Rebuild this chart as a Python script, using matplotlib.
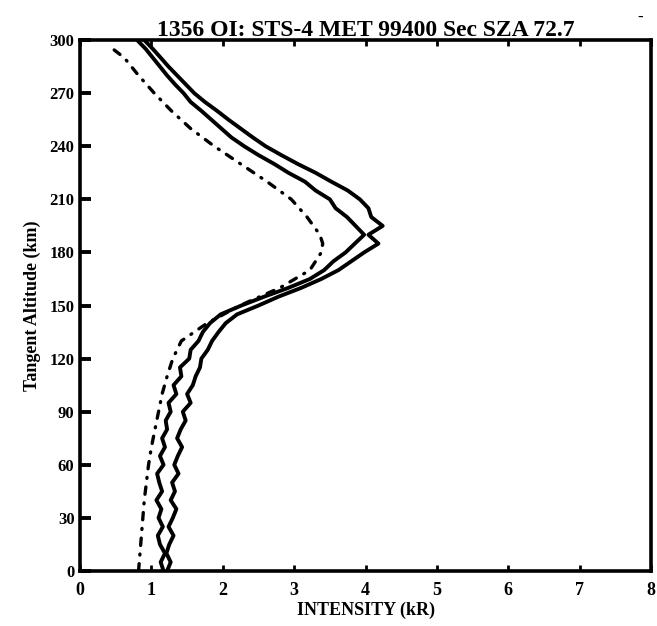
import matplotlib
matplotlib.use("Agg")
import matplotlib.pyplot as plt
import numpy as np

# altitude grid for the measured profiles (km)
alt_meas = list(range(0, 301, 5))

# left measured profile (kR)
meas_a = [1.17, 1.13, 1.19, 1.12, 1.09, 1.16, 1.10, 1.14, 1.07, 1.15,
          1.11, 1.08, 1.17, 1.12, 1.19, 1.15, 1.22, 1.20, 1.27, 1.24,
          1.35, 1.31, 1.42, 1.40, 1.53, 1.55, 1.66, 1.72, 1.82, 1.97,
          2.26, 2.58, 2.92, 3.22, 3.42, 3.55, 3.72, 3.85, 3.98, 3.86,
          3.74, 3.58, 3.50, 3.30, 3.15, 2.92, 2.72, 2.50, 2.30, 2.12,
          1.98, 1.84, 1.70, 1.55, 1.45, 1.33, 1.22, 1.12, 1.02, 0.92,
          0.80]

# right measured profile (kR)
meas_b = [1.22, 1.27, 1.21, 1.25, 1.31, 1.24, 1.30, 1.35, 1.27, 1.33,
          1.29, 1.38, 1.32, 1.37, 1.43, 1.36, 1.41, 1.48, 1.44, 1.55,
          1.50, 1.58, 1.62, 1.68, 1.70, 1.79, 1.85, 1.94, 2.04, 2.20,
          2.50, 2.78, 3.10, 3.38, 3.62, 3.80, 3.98, 4.18, 4.04, 4.24,
          4.08, 4.04, 3.92, 3.75, 3.52, 3.30, 3.05, 2.82, 2.60, 2.42,
          2.25, 2.08, 1.92, 1.75, 1.60, 1.48, 1.36, 1.24, 1.13, 1.02,
          0.90]

# model profile (dash-dot)
alt_model = [0, 10, 20, 30, 40, 50, 60, 70, 80, 90, 100, 110, 120, 130,
             140, 150, 160, 170, 180, 185, 190, 200, 210, 220, 230, 240,
             250, 260, 270, 280, 290, 295]
model = [0.82, 0.84, 0.86, 0.88, 0.90, 0.93, 0.96, 1.00, 1.05, 1.10,
         1.15, 1.22, 1.30, 1.42, 1.78, 2.24, 2.80, 3.22, 3.38, 3.40,
         3.36, 3.18, 2.96, 2.62, 2.25, 1.88, 1.55, 1.28, 1.04, 0.82,
         0.62, 0.46]

x_ticks = list(range(0, 9))
y_ticks = list(range(0, 301, 30))

plt.rcParams['font.family'] = ['Liberation Serif', 'DejaVu Serif']
plt.rcParams['font.weight'] = 'bold'

fig = plt.figure(figsize=(6.57, 6.26), dpi=100)
ax = fig.add_axes([0.1218, 0.0879, 0.8692, 0.8481])

ax.plot(meas_a, alt_meas, color='black', lw=2.8, solid_joinstyle='round')
ax.plot(meas_b, alt_meas, color='black', lw=2.8, solid_joinstyle='round')
ax.plot(model, alt_model, color='black', lw=2.4,
        linestyle=(0, (2.2, 2.6, 0.3, 2.6)), dash_capstyle='round')

ax.set_xlim(0, 8)
ax.set_ylim(0, 300)
ax.set_xticks(x_ticks)
ax.set_yticks(y_ticks)
ax.set_xticklabels([str(v) for v in x_ticks], fontsize=13, fontweight='bold')
ax.set_yticklabels([str(v) for v in y_ticks], fontsize=12, fontweight='bold')
ax.tick_params(axis='y', direction='in', length=8, width=2.8, pad=4)
ax.tick_params(axis='x', direction='in', length=4, width=2, pad=8,
               top=True)

for sp in ax.spines.values():
    sp.set_linewidth(2.6)

ax.set_xlabel('INTENSITY (kR)', fontsize=13, fontweight='bold', labelpad=2)
ax.set_ylabel('Tangent Altitude (km)', fontsize=13, fontweight='bold',
              labelpad=6)
ax.set_title('1356 OI: STS-4 MET 99400 Sec SZA 72.7', fontsize=17,
             fontweight='bold', pad=3)
fig.text(0.975, 0.972, '-', fontsize=12, fontweight='bold',
         ha='center', va='center')

fig.savefig('out.png', dpi=100)
